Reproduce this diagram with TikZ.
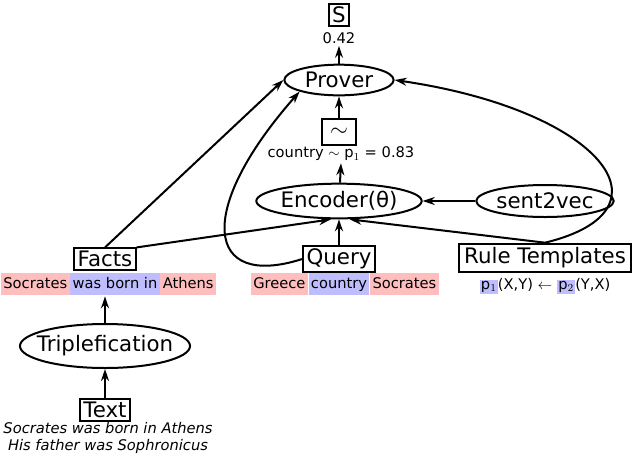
\documentclass[tikz,border=0pt]{standalone}
\usepackage{fontspec}
\setmainfont{DejaVu Sans}
\usetikzlibrary{arrows.meta,shapes.geometric}
\definecolor{pr}{RGB}{255,190,190}
\definecolor{pb}{RGB}{190,190,255}
\begin{document}
\begin{tikzpicture}[x=0.75pt,y=-0.75pt,line width=1.5pt,
  box/.style={draw,inner xsep=2.5pt,inner ysep=2pt,font=\fontsize{16}{18}\selectfont},
  ell/.style={draw,ellipse,inner sep=0pt,font=\fontsize{16}{18}\selectfont},
  hl/.style={inner xsep=1.8pt,inner ysep=2.5pt,font=\fontsize{11}{12}\selectfont,text height=9pt,text depth=3pt},
  red/.style={hl,fill=pr},blue/.style={hl,fill=pb},
  ar/.style={-{Stealth[length=9pt,width=6pt]}},
  sm/.style={font=\fontsize{11}{12}\selectfont}]
\useasboundingbox (0,0) rectangle (640,455);
\node[box] (S) at (339,15) {S};
\node[sm,inner sep=1pt] (v) at (339,38) {0.42};
\node[ell,minimum width=82pt,minimum height=23pt] (P) at (339,80) {Prover};
\node[box,minimum width=25pt,minimum height=19pt] (T) at (339,132) {$\sim$};
\node[sm,inner sep=1pt] (cl) at (341,154) {country $\sim$ p$_1$ = 0.83};
\node[ell,minimum width=110pt,minimum height=26pt] (E) at (339,201) {Encoder(θ)};
\node[ell,minimum width=94pt,minimum height=24pt] (V) at (545,201) {sent2vec};
\node[box] (F) at (105,259) {Facts};
\node[box] (Q) at (339,259) {Query};
\node[box,inner xsep=4pt,inner ysep=3pt] (R) at (545,258) {Rule Templates};
\node[blue] (f2) at (115,284) {was born in};
\begin{scope}[on background layer/.style={}]
\node[red,anchor=east] (f1) at ([xshift=1pt]f2.west) {Socrates};
\node[red,anchor=west] (f3) at ([xshift=-1pt]f2.east) {Athens};
\end{scope}
\node[blue] at (f2) {was born in};
\node[blue] (q2) at (339,284) {country};
\node[red,anchor=east] (q1) at ([xshift=1pt]q2.west) {Greece};
\node[red,anchor=west] (q3) at ([xshift=-1pt]q2.east) {Socrates};
\node[blue] at (q2) {country};
\node[sm] (rt) at (545,286) {\setlength{\fboxsep}{1pt}\colorbox{pb}{p$_1$}(X,Y) $\leftarrow$ \colorbox{pb}{p$_2$}(Y,X)};
\node[ell,inner xsep=-6pt,minimum height=33pt] (Tr) at (105,346) {Triplefication};
\node[box] (X) at (105,410) {Text};
\node[font=\fontsize{11}{13}\selectfont\itshape,align=center,inner sep=0pt] (xt) at (108,438) {Socrates was born in Athens\\His father was Sophronicus};
\draw[ar] (X) -- (Tr);
\draw[ar] (Tr) -- (f2.south -| Tr.north);
\draw[ar] (F.north) -- (P.west);
\draw[ar] (F.north east) -- ([xshift=-6pt]E.south);
\draw[ar] (Q) -- (E);
\draw[ar] (R.north) -- ([xshift=8pt]E.south);
\draw[ar] (V) -- (E);
\draw[ar] (E) -- (cl.south);
\draw[ar] (T) -- (P);
\draw[ar] (P) -- (v);
\draw[ar] (Q.west) .. controls (205,290) and (195,210) .. (P.south west);
\draw[ar] (R.north) .. controls (680,210) and (600,110) .. (P.east);
\end{tikzpicture}
\end{document}
